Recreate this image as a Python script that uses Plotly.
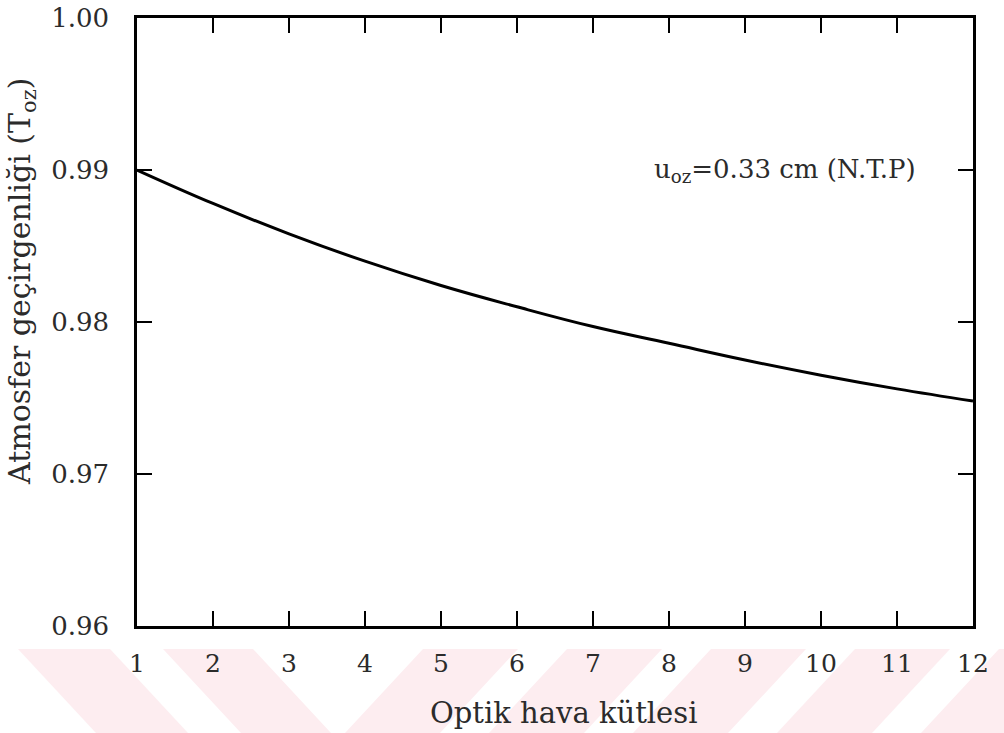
import plotly.graph_objects as go

# Data
air_mass = [1, 2, 3, 4, 5, 6, 7, 8, 9, 10, 11, 12]
transmittance = [0.9900, 0.9878, 0.9858, 0.9840, 0.9824, 0.9810,
                 0.9797, 0.9786, 0.9775, 0.9765, 0.9756, 0.9748]
x_tick_vals = [1, 2, 3, 4, 5, 6, 7, 8, 9, 10, 11, 12]
x_tick_text = ["1", "2", "3", "4", "5", "6", "7", "8", "9", "10", "11", "12"]
y_tick_vals = [0.96, 0.97, 0.98, 0.99, 1.00]
y_tick_text = ["0.96", "0.97", "0.98", "0.99", "1.00"]

FONT = "DejaVu Serif"
INK = "#2b2b2b"

W, H = 1004, 733
L, R, T, B = 137, 31, 18, 107
PW, PH = W - L - R, H - T - B


def px(x):
    return (x - L) / PW


def py(y):
    return (H - B - y) / PH


fig = go.Figure()
fig.add_trace(go.Scatter(
    x=air_mass, y=transmittance, mode="lines",
    line=dict(color="black", width=3, shape="spline", smoothing=1.2),
    showlegend=False, hoverinfo="x+y"))

# watermark stripes (decorative band at the bottom)
pink = "#fdedf0"
shapes = []
y_top, y_bot, shift = 649, 733, 78
for x0, x1 in [(18, 110), (163, 253)]:
    path = (f"M {px(x0)},{py(y_top)} L {px(x1)},{py(y_top)} "
            f"L {px(x1 + shift)},{py(y_bot)} L {px(x0 + shift)},{py(y_bot)} Z")
    shapes.append(dict(type="path", xref="paper", yref="paper", path=path,
                       fillcolor=pink, line=dict(width=0), layer="below"))
for x0, x1 in [(423, 518), (567, 662), (711, 806), (855, 950), (999, 1094)]:
    path = (f"M {px(x0)},{py(y_top)} L {px(x1)},{py(y_top)} "
            f"L {px(x1 - shift)},{py(y_bot)} L {px(x0 - shift)},{py(y_bot)} Z")
    shapes.append(dict(type="path", xref="paper", yref="paper", path=path,
                       fillcolor=pink, line=dict(width=0), layer="below"))

fig.update_layout(
    width=W, height=H,
    margin=dict(l=L, r=R, t=T, b=B, autoexpand=False),
    paper_bgcolor="white", plot_bgcolor="white",
    font=dict(family=FONT, color=INK, size=24),
    shapes=shapes,
    xaxis=dict(
        range=[1, 12], tickvals=x_tick_vals, ticktext=x_tick_text,
        showgrid=False, zeroline=False, automargin=False,
        showline=True, linecolor="black", linewidth=2.5, mirror="ticks",
        ticks="inside", ticklen=15, tickwidth=2, tickcolor="black",
        tickfont=dict(family=FONT, size=25, color=INK),
        ticklabelstandoff=13,
    ),
    yaxis=dict(
        range=[0.96, 1.00], tickvals=y_tick_vals, ticktext=y_tick_text,
        showgrid=False, zeroline=False, automargin=False,
        showline=True, linecolor="black", linewidth=2.5, mirror="ticks",
        ticks="inside", ticklen=15, tickwidth=2, tickcolor="black",
        tickfont=dict(family=FONT, size=26, color=INK),
        ticklabelstandoff=20,
    ),
    annotations=[
        dict(text="Optik hava kütlesi", xref="paper", yref="paper",
             x=px(563), y=py(713), xanchor="center", yanchor="middle",
             showarrow=False, font=dict(family=FONT, size=29, color=INK)),
        dict(text="Atmosfer geçirgenliği (T<sub>oz</sub>)", xref="paper", yref="paper",
             x=px(21), y=py(282), xanchor="center", yanchor="middle",
             textangle=-90, showarrow=False,
             font=dict(family=FONT, size=30, color=INK)),
        dict(text="u<sub>oz</sub>=0.33 cm (N.T.P)", xref="paper", yref="paper",
             x=px(652), y=py(170), xanchor="left", yanchor="middle",
             showarrow=False, font=dict(family=FONT, size=26, color=INK)),
    ],
)

fig.write_html("out.html")
